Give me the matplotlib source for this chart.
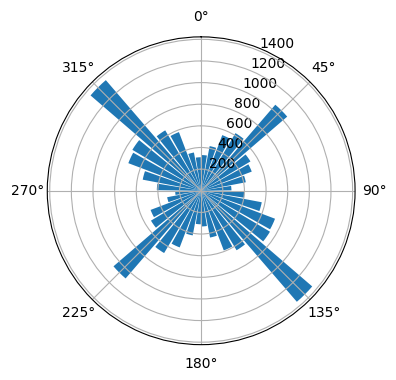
import numpy as np
import matplotlib
matplotlib.use("Agg")
import matplotlib.pyplot as plt

# counts per 10 degree bin, clockwise from north (bin edges 0, 10, ..., 350)
bin_edges_deg = list(range(0, 360, 10))
counts = [
    330, 420, 550, 620, 1050, 530, 500, 420, 280,     # 0 - 90
    400, 570, 730, 740, 1355, 640, 590, 440, 330,     # 90 - 180
    310, 420, 560, 670, 1070, 540, 500, 320, 240,     # 180 - 270
    410, 550, 720, 740, 1350, 650, 580, 360, 310,     # 270 - 360
]

fig = plt.figure(figsize=(3.96, 3.8), dpi=100)
ax = fig.add_axes([0.119, 0.093, 0.778, 0.81], projection="polar")
ax.set_theta_zero_location("N")
ax.set_theta_direction(-1)

theta = np.deg2rad(np.array(bin_edges_deg) + 5)
ax.bar(theta, counts, width=np.deg2rad(10) * 0.85, color="#1f77b4")

fig.savefig("out.png", dpi=100)
